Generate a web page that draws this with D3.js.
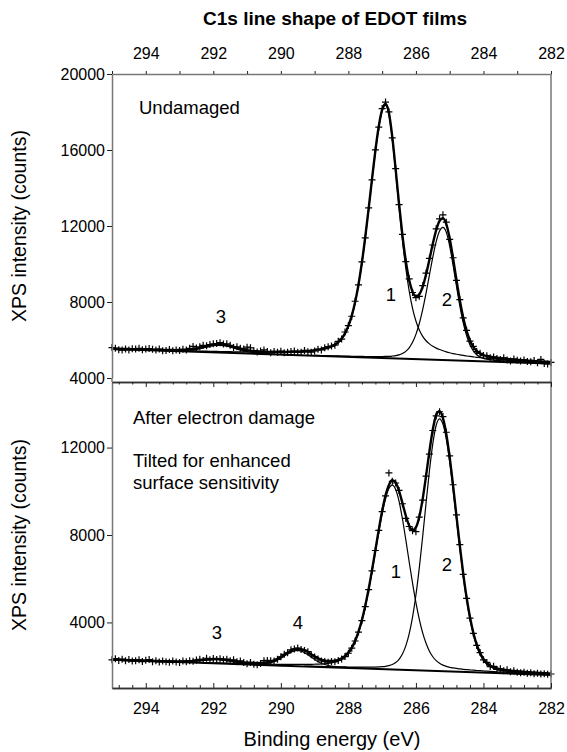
<!DOCTYPE html>
<html><head><meta charset="utf-8">
<script src="https://cdn.jsdelivr.net/npm/d3@7/dist/d3.min.js"></script>
<style>
html,body{margin:0;padding:0;background:#fff;}
svg text{font-family:"Liberation Sans",Arial,Helvetica,sans-serif;fill:#000;}
</style></head><body>
<svg id="chart" width="567" height="752"></svg>
<script>
// ---------- DATA ----------
// binding-energy grid of the measured points (eV), 295.0 -> 282.0 in 0.1 eV steps
const energyStart = 295.0, energyStep = 0.1, energyCount = 131;
const xTickLabels = [294, 292, 290, 288, 286, 284, 282];
const topYTicks = [4000, 8000, 12000, 16000, 20000];
const bottomYTicks = [4000, 8000, 12000];
const bgEnergy = [295, 282];

// Upper panel: undamaged film
const topCounts = [
 5600,5560,5490,5470,5520,5480,5540,5530,5560,5490,
 5530,5550,5510,5470,5520,5440,5450,5500,5440,5480,
 5450,5510,5470,5560,5660,5580,5640,5720,5700,5760,
 5800,5810,5860,5790,5800,5720,5610,5640,5560,5530,
 5620,5590,5440,5370,5420,5480,5390,5330,5400,5360,
 5410,5330,5350,5400,5420,5350,5360,5450,5380,5360,
 5420,5510,5480,5590,5650,5680,5730,5930,6050,6420,
 6760,7250,8040,8900,10110,11380,12950,14430,16010,17200,
 18180,18520,18010,16640,15020,13130,11560,10120,9220,8500,
 8230,8300,8860,9520,10300,11000,11850,12380,12590,12200,
 11300,10330,9140,8120,7160,6510,5940,5660,5390,5300,
 5180,5170,5060,5110,5030,4970,5060,4950,4900,5000,
 4940,4890,4950,4870,4850,4920,4800,4980,4760,4740,
 4820];
const topBackground = [5530, 4760];
const topPeak1Start = 295.0;
const topPeak1 = [
 20,20,21,22,22,23,23,24,25,25, 26,27,28,28,29,30,31,32,33,34,
 35,37,38,39,40,41,43,45,46,48, 50,52,54,56,59,61,64,67,70,73,
 77,81,85,89,94,99,104,111,118,125, 133,142,151,161,173,186,200,217,235,255,
 278,306,340,380,431,500,593,729,922,1200, 1593,2136,2861,3792,4941,6288,7784,9346,10845,12120,
 12989,13300,12816,11530,9797,7959,6240,4763,3573,2664, 2001,1532,1207,981,821,702,613,541,482,433,
 391,355,324,296,272,251,232,215,200,186, 174,163,153,143,135,127,120,114,108,102,
 97,92,88,84,80,77,73,70,67,65, 62];
const topPeak2Start = 289.0;
const topPeak2 = [
 18,19,20,21,22,23,25,27,28,30, 32,35,37,40,44,47,51,56,62,68,
 75,85,98,117,144,189,265,387,580,875, 1300,1879,2616,3490,4446,5393,6213,6778,6980,6720,
 6009,5014,3919,2881,2002,1323,843,528,335,222, 158,121,100,85,74,66,59,53,48,44,
 40,37,34,31,29,27,25,24,22,21, 19];
const topPeak3Start = 293.8;
const topPeak3 = [
 5,6,7,8,9,11,14,18,24,34, 48,68,95,128,168,213,260,306,344,371,
 380,371,344,306,260,213,168,128,95,68, 48,34,24,18,14,11,9,8,7,6, 5];

// Lower panel: after electron damage
const bottomCounts = [
 2290,2340,2260,2320,2250,2300,2230,2250,2290,2210,
 2270,2300,2200,2250,2190,2240,2200,2180,2230,2190,
 2170,2230,2200,2250,2220,2280,2310,2260,2360,2290,
 2350,2300,2340,2290,2320,2250,2290,2200,2240,2170,
 2110,2170,2090,2060,2120,2250,2260,2250,2240,2310,
 2430,2540,2610,2750,2790,2830,2760,2720,2660,2520,
 2420,2330,2240,2210,2180,2210,2200,2260,2330,2440,
 2590,2820,3150,3560,4080,4720,5500,6360,7290,8210,
 9070,9790,10840,10460,10380,10040,9430,8760,8390,8200,
 8150,8820,9600,10690,11700,12780,13450,13640,13420,12700,
 11620,10300,8920,7560,6200,5100,4200,3500,2950,2620,
 2290,2170,1980,1990,1850,1880,1790,1830,1740,1790,
 1720,1700,1720,1670,1700,1650,1680,1640,1650,1630,
 1640];
const bottomBackground = [2290, 1600];
const bottomPeak1Start = 295.0;
const bottomPeak1 = [
 10,10,10,10,11,11,11,11,12,12, 12,13,13,13,14,14,15,15,15,16,
 16,17,18,18,19,19,20,21,21,22, 23,24,25,26,27,28,29,31,32,33,
 35,37,38,40,42,44,47,49,52,55, 58,62,66,70,75,80,86,92,99,107,
 116,126,137,155,176,203,240,295,374,488, 652,884,1199,1618,2151,2805,3575,4438,5356,6273,
 7118,7811,8269,8430,8240,7706,6909,5959,4953,3978, 3094,2337,1723,1248,895,644,470,354,276,225,
 188,164,145,131,118,108,99,92,85,79, 73,68,64,60,56,53,50,47,44,42,
 40,38,36,34,33,31,30,28,27,26, 25];
const bottomPeak2Start = 289.3;
const bottomPeak2 = [
 20,21,22,23,24,26,27,29,31,32, 35,37,40,42,45,49,53,57,63,68,
 75,83,94,110,131,167,224,318,474,720, 1099,1655,2426,3441,4691,6130,7661,9141,10393,11241,
 11540,11303,10626,9599,8343,6985,5640,4393,3310,2418, 1716,1191,816,556,384,272,202,158,128,110,
 96,84,77,71,66,61,57,53,49,46, 43,40,38,36];
const bottomPeak3Start = 293.9;
const bottomPeak3 = [
 2,3,3,4,4,5,7,9,11,16, 23,32,45,61,80,101,123,145,163,176,
 180,176,163,145,123,101,80,61,45,32, 23,16,11,9,7,5,4,4,3,3, 2];
const bottomPeak4Start = 291.5;
const bottomPeak4 = [
 8,8,9,10,12,14,16,20,26,37, 53,79,118,173,246,336,437,540,632,696,
 720,696,632,540,437,336,246,173,118,79, 53,37,26,20,16,14,12,10,9,8, 8];

// ---------- CHART ----------
const FONT = '"Liberation Sans",Arial,Helvetica,sans-serif';
const svg = d3.select('#chart');
const energyGrid = d3.range(energyCount).map(i => +(energyStart - i * energyStep).toFixed(1));

const x = d3.scaleLinear().domain([295, 282]).range([112, 551]);
const yTop = d3.scaleLinear().domain([4000, 20000]).range([378, 74]);
const yBot = d3.scaleLinear().domain([1000, 15000]).range([688, 382]);

function compPoints(start, values) {
  return values.map((v, i) => [+(start - i * energyStep).toFixed(1), v]);
}

function drawPanel(y, counts, bgCounts, comps) {
  const bg = d3.scaleLinear().domain(bgEnergy).range(bgCounts);
  const g = svg.append('g');
  const line = d3.line().x(d => x(d[0])).y(d => y(d[1])).curve(d3.curveMonotoneX);
  const compSeries = comps.map(c => compPoints(c.start, c.values));
  const lookup = compSeries.map(s => new Map(s.map(p => [p[0], p[1]])));
  const envelope = energyGrid.map(E => [E, bg(E) + d3.sum(lookup, m => m.get(E) || 0)]);

  // background
  g.append('path').datum(bgEnergy.map((E, i) => [E, bgCounts[i]]))
    .attr('d', d3.line().x(d => x(d[0])).y(d => y(d[1])))
    .attr('fill', 'none').attr('stroke', '#000').attr('stroke-width', 2);
  // components
  compSeries.forEach(s => {
    g.append('path').datum(s.map(p => [p[0], bg(p[0]) + p[1]]))
      .attr('d', line).attr('fill', 'none').attr('stroke', '#000').attr('stroke-width', 1.2);
  });
  // envelope
  g.append('path').datum(envelope).attr('d', line)
    .attr('fill', 'none').attr('stroke', '#000').attr('stroke-width', 2.4);
  // measured points
  g.selectAll('path.pt').data(energyGrid.map((E, i) => [E, counts[i]])).enter()
    .append('path').attr('class', 'pt')
    .attr('transform', d => `translate(${x(d[0])},${y(d[1])})`)
    .attr('d', 'M-3.5,0H3.5M0,-3.5V3.5')
    .attr('stroke', '#000').attr('stroke-width', 1.2).attr('fill', 'none');
}

drawPanel(yTop, topCounts, topBackground, [
  {start: topPeak1Start, values: topPeak1},
  {start: topPeak2Start, values: topPeak2},
  {start: topPeak3Start, values: topPeak3}]);
drawPanel(yBot, bottomCounts, bottomBackground, [
  {start: bottomPeak1Start, values: bottomPeak1},
  {start: bottomPeak2Start, values: bottomPeak2},
  {start: bottomPeak3Start, values: bottomPeak3},
  {start: bottomPeak4Start, values: bottomPeak4}]);

// ---------- AXES ----------
function styleAxis(sel, domainColor) {
  sel.select('.domain').attr('stroke', domainColor || '#777').attr('stroke-width', 1.5);
  sel.selectAll('.tick line').attr('stroke', '#222').attr('stroke-width', 1);
  sel.selectAll('.tick text').attr('font-family', FONT).attr('font-size', 16).attr('fill', '#000');
}
const majorE = xTickLabels;
const minorE = d3.range(282.4, 295, 0.4).filter(v => Math.abs(v - Math.round(v)) > 0.05 || Math.round(v) % 2 !== 0);
const oneEV = d3.range(282, 296, 1);

// top axis (labels)
styleAxis(svg.append('g').attr('transform', 'translate(0,74)')
  .call(d3.axisTop(x).tickValues(oneEV).tickSize(3).tickSizeOuter(0).tickPadding(12)
    .tickFormat(d => (d % 2 === 0 ? d : ''))));

// upper panel left axis
styleAxis(svg.append('g').attr('transform', 'translate(112,0)')
  .call(d3.axisLeft(yTop).tickValues(topYTicks).tickSize(5).tickSizeOuter(0).tickPadding(2)
    .tickFormat(d3.format('d'))));
// upper panel right frame
svg.append('line').attr('x1', 551).attr('x2', 551).attr('y1', 74).attr('y2', 382)
  .attr('stroke', '#777').attr('stroke-width', 1.5);

// lower panel left axis
styleAxis(svg.append('g').attr('transform', 'translate(112,0)')
  .call(d3.axisLeft(yBot).tickValues(bottomYTicks).tickSize(5).tickSizeOuter(0).tickPadding(2)
    .tickFormat(d3.format('d'))));
svg.append('line').attr('x1', 112).attr('x2', 112).attr('y1', 378).attr('y2', 382)
  .attr('stroke', '#777').attr('stroke-width', 1.5);
svg.append('line').attr('x1', 551).attr('x2', 551).attr('y1', 382).attr('y2', 688)
  .attr('stroke', '#777').attr('stroke-width', 1.5);

// separator (top of lower panel): ticks pointing down
styleAxis(svg.append('g').attr('transform', 'translate(0,382)')
  .call(d3.axisTop(x).tickValues(majorE).tickSize(-5).tickSizeOuter(0).tickFormat('')), '#333');
styleAxis(svg.append('g').attr('transform', 'translate(0,382)')
  .call(d3.axisTop(x).tickValues(minorE).tickSize(-2.5).tickSizeOuter(0).tickFormat('')), '#333');

// bottom axis: ticks pointing up, labels below
styleAxis(svg.append('g').attr('transform', 'translate(0,688)')
  .call(d3.axisBottom(x).tickValues(majorE).tickSize(-5).tickSizeOuter(0).tickPadding(15)
    .tickFormat(d3.format('d'))), '#333');
styleAxis(svg.append('g').attr('transform', 'translate(0,688)')
  .call(d3.axisBottom(x).tickValues(minorE).tickSize(-3).tickSizeOuter(0).tickFormat('')), '#333');

// ---------- TEXT ----------
function txt(s, px, py, opts) {
  const t = svg.append('text').attr('x', px).attr('y', py).text(s)
    .attr('font-family', FONT).attr('font-size', (opts && opts.size) || 18.5)
    .attr('text-anchor', (opts && opts.anchor) || 'start');
  if (opts && opts.bold) t.attr('font-weight', 'bold');
  if (opts && opts.rotate) t.attr('transform', `rotate(-90,${px},${py})`);
  return t;
}
txt('C1s line shape of EDOT films', 335, 25, {size: 19, bold: true, anchor: 'middle'});
txt('XPS intensity (counts)', 26, 226, {size: 19.5, anchor: 'middle', rotate: true});
txt('XPS intensity (counts)', 26, 535, {size: 19.5, anchor: 'middle', rotate: true});
txt('Binding energy (eV)', 332, 746, {size: 20, anchor: 'middle'});

txt('Undamaged', 139, 114);
txt('After electron damage', 133, 424);
txt('Tilted for enhanced', 133, 467);
txt('surface sensitivity', 133, 489);

txt('3', 221, 323, {anchor: 'middle'});
txt('1', 391, 301, {anchor: 'middle'});
txt('2', 447, 306, {anchor: 'middle'});
txt('3', 217, 639, {anchor: 'middle'});
txt('4', 298, 629, {anchor: 'middle'});
txt('1', 396, 578, {anchor: 'middle'});
txt('2', 447, 571, {anchor: 'middle'});
</script>
</body></html>
